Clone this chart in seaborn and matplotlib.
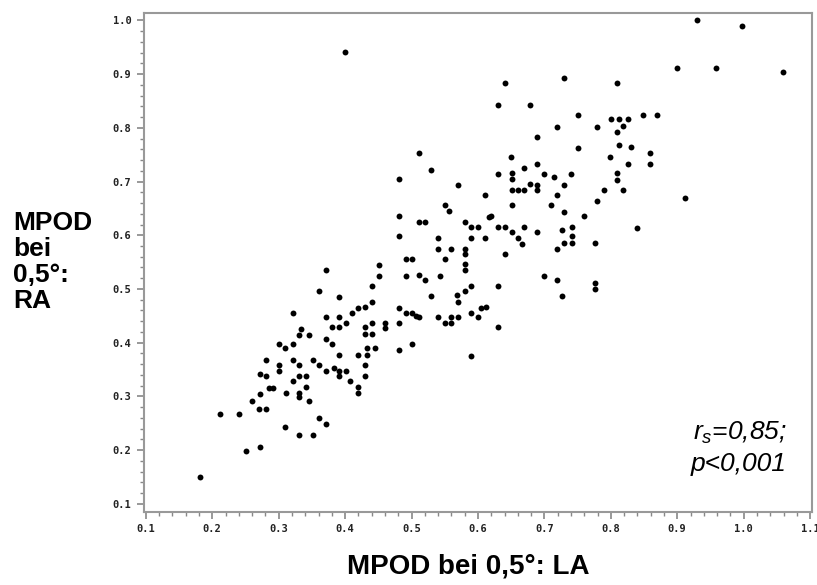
import matplotlib
matplotlib.use("Agg")
import matplotlib.pyplot as plt
import pandas as pd
import seaborn as sns
from matplotlib.ticker import FormatStrFormatter, MultipleLocator

# MPOD at 0.5 deg, left eye (LA) vs right eye (RA)
mpod_la = [
    0.400, 0.640, 0.729, 0.630, 0.678, 0.750, 0.719, 0.689, 0.750, 0.511,
    0.650, 0.689, 0.669, 0.530, 0.929, 0.998, 0.899, 0.958, 1.059, 0.809,
    0.801, 0.813, 0.826, 0.849, 0.869, 0.779, 0.819, 0.809, 0.813, 0.830,
    0.859, 0.799, 0.826, 0.859, 0.809, 0.809, 0.789, 0.819, 0.779, 0.912,
    0.839, 0.776, 0.776, 0.776, 0.451, 0.451, 0.371, 0.440, 0.361, 0.391,
    0.440, 0.430, 0.420, 0.410, 0.321, 0.371, 0.391, 0.401, 0.440, 0.460,
    0.381, 0.391, 0.430, 0.460, 0.334, 0.331, 0.346, 0.371, 0.381, 0.430,
    0.440, 0.301, 0.310, 0.321, 0.433, 0.445, 0.391, 0.420, 0.433, 0.281,
    0.321, 0.351, 0.301, 0.331, 0.361, 0.430, 0.301, 0.371, 0.384, 0.391,
    0.401, 0.272, 0.281, 0.331, 0.341, 0.391, 0.430, 0.321, 0.408, 0.286,
    0.292, 0.341, 0.420, 0.420, 0.272, 0.311, 0.331, 0.331, 0.346, 0.260,
    0.271, 0.281, 0.212, 0.241, 0.361, 0.371, 0.310, 0.331, 0.351, 0.272,
    0.251, 0.182, 0.481, 0.500, 0.590, 0.481, 0.570, 0.630, 0.651, 0.651,
    0.699, 0.715, 0.740, 0.679, 0.689, 0.729, 0.651, 0.660, 0.670, 0.689,
    0.611, 0.719, 0.550, 0.556, 0.651, 0.710, 0.729, 0.759, 0.481, 0.616,
    0.620, 0.511, 0.520, 0.580, 0.590, 0.600, 0.630, 0.640, 0.670, 0.741,
    0.651, 0.689, 0.727, 0.741, 0.481, 0.540, 0.590, 0.611, 0.660, 0.667,
    0.729, 0.741, 0.540, 0.560, 0.580, 0.719, 0.580, 0.640, 0.491, 0.500,
    0.550, 0.580, 0.580, 0.491, 0.511, 0.520, 0.543, 0.699, 0.719, 0.590,
    0.630, 0.580, 0.530, 0.569, 0.570, 0.727, 0.481, 0.491, 0.500, 0.507,
    0.511, 0.540, 0.560, 0.570, 0.590, 0.600, 0.605, 0.612, 0.481, 0.550,
    0.560, 0.630,
]
mpod_ra = [
    0.941, 0.883, 0.892, 0.842, 0.842, 0.823, 0.802, 0.783, 0.763, 0.754,
    0.745, 0.733, 0.725, 0.721, 1.000, 0.989, 0.911, 0.911, 0.903, 0.883,
    0.817, 0.817, 0.817, 0.823, 0.823, 0.802, 0.804, 0.793, 0.768, 0.764,
    0.753, 0.745, 0.732, 0.733, 0.715, 0.703, 0.684, 0.684, 0.664, 0.670,
    0.614, 0.586, 0.512, 0.500, 0.545, 0.525, 0.536, 0.506, 0.497, 0.485,
    0.476, 0.466, 0.464, 0.456, 0.456, 0.447, 0.447, 0.437, 0.437, 0.437,
    0.429, 0.429, 0.429, 0.427, 0.426, 0.415, 0.414, 0.407, 0.397, 0.416,
    0.416, 0.398, 0.390, 0.398, 0.390, 0.390, 0.377, 0.377, 0.377, 0.368,
    0.368, 0.368, 0.358, 0.358, 0.358, 0.358, 0.347, 0.347, 0.353, 0.347,
    0.347, 0.341, 0.338, 0.338, 0.338, 0.338, 0.338, 0.328, 0.328, 0.316,
    0.316, 0.318, 0.318, 0.307, 0.305, 0.307, 0.307, 0.298, 0.292, 0.292,
    0.277, 0.277, 0.268, 0.268, 0.259, 0.249, 0.243, 0.228, 0.228, 0.206,
    0.199, 0.150, 0.387, 0.397, 0.376, 0.704, 0.694, 0.714, 0.715, 0.704,
    0.714, 0.708, 0.714, 0.696, 0.694, 0.694, 0.684, 0.684, 0.684, 0.684,
    0.675, 0.675, 0.656, 0.646, 0.656, 0.656, 0.644, 0.636, 0.636, 0.634,
    0.636, 0.624, 0.624, 0.624, 0.615, 0.615, 0.615, 0.615, 0.615, 0.615,
    0.606, 0.606, 0.609, 0.598, 0.598, 0.594, 0.594, 0.594, 0.594, 0.584,
    0.586, 0.586, 0.574, 0.574, 0.574, 0.574, 0.566, 0.566, 0.555, 0.555,
    0.555, 0.546, 0.535, 0.525, 0.526, 0.516, 0.525, 0.525, 0.516, 0.506,
    0.506, 0.497, 0.486, 0.488, 0.476, 0.487, 0.464, 0.456, 0.456, 0.450,
    0.447, 0.447, 0.447, 0.447, 0.456, 0.447, 0.464, 0.467, 0.437, 0.437,
    0.437, 0.429,
]
stat_lines = ["$r_s$=0,85;", "p<0,001"]

df = pd.DataFrame({"LA": mpod_la, "RA": mpod_ra})

sns.set_style("white")
plt.rcParams["font.family"] = ["Liberation Sans", "DejaVu Sans"]
plt.rcParams["mathtext.fontset"] = "custom"
plt.rcParams["mathtext.it"] = "Liberation Sans:italic"
plt.rcParams["mathtext.rm"] = "Liberation Sans"

fig = plt.figure(figsize=(8.17, 5.85), dpi=100)
ax = fig.add_axes([0.176, 0.125, 0.818, 0.853])

sns.scatterplot(data=df, x="LA", y="RA", ax=ax, color="black", s=18,
                linewidth=0, legend=False)

ax.set_xlim(0.097, 1.103)
ax.set_ylim(0.085, 1.014)
ax.xaxis.set_major_locator(MultipleLocator(0.1))
ax.xaxis.set_minor_locator(MultipleLocator(0.02))
ax.yaxis.set_major_locator(MultipleLocator(0.1))
ax.yaxis.set_minor_locator(MultipleLocator(0.02))
ax.xaxis.set_major_formatter(FormatStrFormatter("%.1f"))
ax.yaxis.set_major_formatter(FormatStrFormatter("%.1f"))

for side in ax.spines.values():
    side.set_color("#999999")
    side.set_linewidth(1.5)
ax.tick_params(which="both", bottom=True, left=True, top=False, right=False)
ax.tick_params(which="major", direction="out", length=5, width=1.2,
               color="#888888", pad=4)
ax.tick_params(which="minor", direction="out", length=3, width=1.0,
               color="#888888")
for lab in ax.get_xticklabels() + ax.get_yticklabels():
    lab.set_family("DejaVu Sans Mono")
    lab.set_fontweight("bold")
    lab.set_fontsize(7.5)
    lab.set_color("#222222")

ax.set_xlabel("")
ax.set_ylabel("")

fig.text(0.573, 0.010, "MPOD bei 0,5°: LA", ha="center", va="bottom",
         fontsize=20, fontweight="bold", color="black")
fig.text(0.016, 0.552, "MPOD\nbei\n0,5°:\nRA", ha="left", va="center",
         fontsize=19, fontweight="bold", linespacing=1.12, color="black")

ax.text(0.962, 0.132, stat_lines[0], transform=ax.transAxes, ha="right",
        va="bottom", fontsize=19, style="italic", color="black")
ax.text(0.962, 0.072, stat_lines[1], transform=ax.transAxes, ha="right",
        va="bottom", fontsize=19, style="italic", color="black")

fig.savefig("out.png", dpi=100)
